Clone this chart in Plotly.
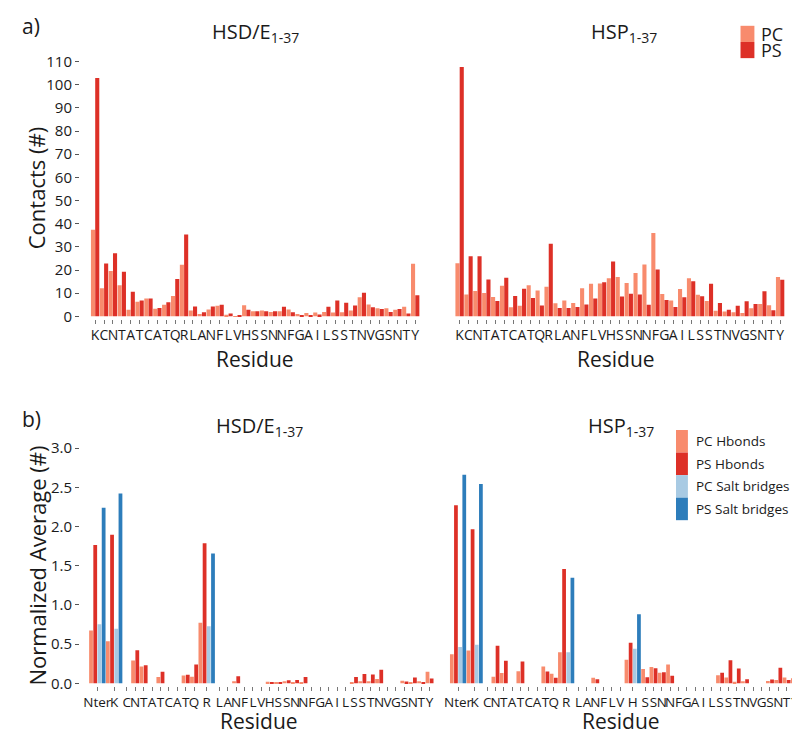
import plotly.graph_objects as go

# ---------------- data ----------------
residues = list("KCNTATCATQRLANFLVHSSNNFGAILSSTNVGSNTY")
categories_b = ["Nter"] + residues

# panel a) contacts
hsd_pc = [37.4, 12.1, 19.6, 13.4, 2.8, 6.3, 7.7, 3.3, 5.0, 8.8, 22.3, 2.5, 1.0, 3.0, 4.6, 0.7, 0.1, 4.8, 2.2,
          2.5, 1.9, 2.2, 3.0, 1.0, 1.5, 1.7, 1.9, 1.7, 1.8, 2.5, 8.2, 5.1, 3.5, 3.5, 2.8, 4.1, 22.7]
hsd_ps = [102.9, 22.8, 27.3, 19.3, 10.6, 6.9, 7.7, 3.6, 6.1, 16.1, 35.3, 4.3, 1.8, 4.3, 5.0, 1.2, 0.2, 2.9, 2.2,
          2.2, 2.2, 4.1, 1.8, 0.6, 0.6, 0.8, 4.1, 6.8, 5.9, 4.7, 10.2, 3.9, 3.2, 1.9, 3.2, 1.2, 9.1]
hsp_pc = [22.9, 9.4, 10.9, 10.1, 8.4, 13.2, 3.9, 4.6, 13.4, 11.2, 12.8, 5.7, 6.8, 5.8, 12.1, 14.1, 14.2, 16.5, 17.0,
          14.4, 18.7, 22.4, 36.0, 9.7, 6.8, 11.8, 16.5, 9.3, 6.6, 2.4, 2.1, 1.8, 1.5, 3.5, 5.3, 4.8, 17.0]
hsp_ps = [107.7, 25.9, 25.9, 15.9, 6.6, 16.7, 8.8, 11.9, 7.9, 4.7, 31.4, 3.6, 3.6, 4.0, 5.1, 7.7, 14.7, 23.7, 8.6,
          9.8, 9.4, 5.0, 20.2, 7.1, 4.0, 8.2, 15.2, 8.7, 14.1, 5.8, 2.8, 4.6, 6.5, 5.3, 10.8, 2.6, 15.8]

# panel b) normalized averages, order: Nter + 37 residues (None = no bar)
N = None
hsd_pc_hb = [0.674, 0.538, N, 0.291, 0.214, N, 0.081, N, N, 0.099, 0.085, 0.773, N, N, 0.026, N, N, N, 0.02,
             0.015, 0.026, 0.018, 0.018, N, N, N, N, N, 0.007, 0.026, 0.026, 0.055, N, N, 0.033, 0.018, 0.026, 0.147]
hsd_ps_hb = [1.764, 1.896, N, 0.423, 0.232, N, 0.147, N, N, 0.11, 0.24, 1.786, N, N, 0.092, N, N, N, 0.015,
             0.018, 0.04, 0.044, 0.081, N, N, N, N, N, 0.081, 0.12, 0.114, 0.173, N, N, 0.022, 0.074, 0.007, 0.063]
hsd_pc_sb = [0.755, 0.696, N, N, N, N, N, N, N, N, N, 0.729, N, N, N, N, N, N, N,
             N, N, N, N, N, N, N, N, N, N, N, N, N, N, N, N, N, N, N]
hsd_ps_sb = [2.239, 2.423, N, N, N, N, N, N, N, N, N, 1.657, N, N, N, N, N, N, N,
             N, N, N, N, N, N, N, N, N, N, N, N, N, N, N, N, N, N, N]

hsp_pc_hb = [0.372, 0.42, N, 0.085, 0.133, N, 0.155, N, N, 0.214, 0.121, 0.398, N, N, 0.07, N, N, N, 0.30,
             0.184, 0.21, 0.136, 0.239, N, N, N, N, N, 0.103, 0.074, 0.02, 0.026, N, N, 0.03, 0.044, 0.074, 0.066]
hsp_ps_hb = [2.272, 1.966, N, 0.479, 0.287, N, 0.28, N, N, 0.151, 0.07, 1.458, N, N, 0.052, N, N, N, 0.519,
             0.077, 0.191, 0.14, 0.096, N, N, N, N, N, 0.136, 0.295, 0.188, 0.052, N, N, 0.048, 0.2, 0.044, 0.129]
hsp_pc_sb = [0.464, 0.493, N, N, N, N, N, N, N, N, N, 0.398, N, N, N, N, N, N, 0.44,
             N, N, N, N, N, N, N, N, N, N, N, N, N, N, N, N, N, N, N]
hsp_ps_sb = [2.662, 2.544, N, N, N, N, N, N, N, N, N, 1.348, N, N, N, N, N, N, 0.88,
             N, N, N, N, N, N, N, N, N, N, N, N, N, N, N, N, N, N, N]

ticks_a = list(range(0, 111, 10))
ticks_b = [0.0, 0.5, 1.0, 1.5, 2.0, 2.5, 3.0]

# ---------------- style ----------------
C_PC = "#F88B6D"
C_PS = "#DD3027"
C_PCSB = "#A8CAE3"
C_PSSB = "#2D7DBB"
FONT = "Open Sans, Lato, sans-serif"
TXT = "#1a1a1a"
W, H = 800, 748


def px(x):
    return x / W


def py(y):
    return 1 - y / H


fig = go.Figure()

# ---------- panel a ----------
idx = list(range(len(residues)))
for xa, ya, pc, ps in [("x", "y", hsd_pc, hsd_ps), ("x2", "y2", hsp_pc, hsp_ps)]:
    fig.add_trace(go.Bar(x=[i - 0.24 for i in idx], y=pc, width=0.46, marker=dict(color=C_PC, line=dict(width=0)),
                         xaxis=xa, yaxis=ya, showlegend=False, name="PC"))
    fig.add_trace(go.Bar(x=[i + 0.24 for i in idx], y=ps, width=0.46, marker=dict(color=C_PS, line=dict(width=0)),
                         xaxis=xa, yaxis=ya, showlegend=False, name="PS"))


# ---------- panel b ----------
def slot_centers(pc_sb, ps_sb):
    widths = [4 if (a is not None or b is not None) else 2 for a, b in zip(pc_sb, ps_sb)]
    centers, pos = [], 0.0
    for wdt in widths:
        centers.append(pos + wdt / 2)
        pos += wdt
    return widths, centers, pos


b_specs = [("x3", "y3", hsd_pc_hb, hsd_ps_hb, hsd_pc_sb, hsd_ps_sb),
           ("x4", "y4", hsp_pc_hb, hsp_ps_hb, hsp_pc_sb, hsp_ps_sb)]
b_centers = {}
b_totals = {}
for xa, ya, pchb, pshb, pcsb, pssb in b_specs:
    widths, centers, total = slot_centers(pcsb, pssb)
    b_centers[xa] = centers
    b_totals[xa] = total
    series = [(pchb, C_PC, (-1.5, -0.5)), (pshb, C_PS, (-0.5, 0.5)),
              (pcsb, C_PCSB, (0.5, None)), (pssb, C_PSSB, (1.5, None))]
    for vals, col, offs in series:
        xs, ys = [], []
        for i, v in enumerate(vals):
            if v is None:
                continue
            off = offs[0] if widths[i] == 4 else offs[1]
            xs.append(centers[i] + off)
            ys.append(v)
        fig.add_trace(go.Bar(x=xs, y=ys, width=0.9, marker=dict(color=col, line=dict(width=0)),
                             xaxis=xa, yaxis=ya, showlegend=False))

# ---------- axes ----------
A_Y0, A_TOP = 306.5, 46.5          # pixel of 0 and 110
A_PPU = (A_Y0 - A_TOP) / 110
a_dom = [py(A_Y0 + 1.0 * A_PPU), py(A_Y0 - 112 * A_PPU)]
B_Y0, B_TOP = 681.0, 441.0         # pixel of 0.0 and 3.0
B_PPU = (B_Y0 - B_TOP) / 3.0
b_dom = [py(B_Y0 + 0.03 * B_PPU), py(B_Y0 - 3.04 * B_PPU)]

common_x = dict(showgrid=False, zeroline=False, showline=False, ticks="outside", ticklen=4,
                tickcolor="#777", tickwidth=1, tickangle=0, fixedrange=True)
tf_a = dict(family=FONT, size=14, color=TXT)
tf_b = dict(family=FONT, size=13.5, color=TXT)

fig.update_layout(
    xaxis=dict(domain=[px(66.5), px(409.6)], range=[-1.7, 36.6], tickvals=idx, ticktext=residues,
               anchor="y", tickfont=tf_a, **common_x),
    xaxis2=dict(domain=[px(440), px(777.3)], range=[-1.0, 36.6], tickvals=idx, ticktext=residues,
                anchor="y2", tickfont=tf_a, **common_x),
    xaxis3=dict(domain=[px(66.5), px(423)], range=[-2.12, b_totals["x3"]], tickvals=b_centers["x3"],
                ticktext=categories_b, anchor="y3", tickfont=tf_b, **common_x),
    xaxis4=dict(domain=[px(439), px(791)], range=[0, b_totals["x4"]], tickvals=b_centers["x4"],
                ticktext=categories_b, anchor="y4", tickfont=tf_b, **common_x),
    yaxis=dict(domain=a_dom, range=[-1.0, 112], tickvals=ticks_a, anchor="x", showgrid=False, zeroline=False,
               showline=False, ticks="outside", ticklen=4, tickcolor="#555",
               tickfont=dict(family=FONT, size=15, color=TXT)),
    yaxis2=dict(domain=a_dom, range=[-1.0, 112], anchor="x2", visible=False),
    yaxis3=dict(domain=b_dom, range=[-0.03, 3.04], tickvals=ticks_b, tickformat=".1f", anchor="x3",
                showgrid=False, zeroline=False, showline=False, ticks="outside", ticklen=4, tickcolor="#555",
                tickfont=dict(family=FONT, size=15, color=TXT)),
    yaxis4=dict(domain=b_dom, range=[-0.03, 3.04], anchor="x4", visible=False),
    barmode="overlay",
    width=W, height=H, autosize=False,
    margin=dict(l=0, r=0, t=0, b=0),
    paper_bgcolor="white", plot_bgcolor="white",
    font=dict(family=FONT, color=TXT),
    showlegend=False,
)

# ---------- text ----------
ann = []


def text(x, y, s, size, **kw):
    d = dict(x=px(x), y=py(y), xref="paper", yref="paper", text=s, showarrow=False,
             font=dict(family=FONT, size=size, color=TXT), xanchor=kw.pop("xanchor", "center"),
             yanchor=kw.pop("yanchor", "middle"))
    d.update(kw)
    ann.append(d)


text(6, 10, "a)", 21, xanchor="left")
text(6, 411, "b)", 21, xanchor="left")
text(243, 17, "HSD/E<sub>1-37</sub>", 20)
text(615, 17, "HSP<sub>1-37</sub>", 20)
text(247, 419, "HSD/E<sub>1-37</sub>", 20)
text(612, 419, "HSP<sub>1-37</sub>", 20)
text(23, 176, "Contacts (#)", 22, textangle=-90)
text(23, 561, "Normalized Average (#)", 22, textangle=-90)
text(243, 350, "Residue", 21)
text(607, 350, "Residue", 21)
text(247, 719, "Residue", 21)
text(612, 719, "Residue", 21)

# legends
shapes = []
leg_a = [("PC", C_PC), ("PS", C_PS)]
for k, (lab, col) in enumerate(leg_a):
    y0 = 10 + k * 16.5
    shapes.append(dict(type="rect", xref="paper", yref="paper", x0=px(732), x1=px(746), y0=py(y0 + 16.5), y1=py(y0),
                       fillcolor=col, line=dict(width=0)))
    text(751, y0 + 8.25, lab, 18, xanchor="left")

leg_b = [("PC Hbonds", C_PC), ("PS Hbonds", C_PS), ("PC Salt bridges", C_PCSB), ("PS Salt bridges", C_PSSB)]
for k, (lab, col) in enumerate(leg_b):
    y0 = 422.5 + k * 23
    shapes.append(dict(type="rect", xref="paper", yref="paper", x0=px(667), x1=px(679), y0=py(y0 + 23), y1=py(y0),
                       fillcolor=col, line=dict(width=0)))
    text(685, y0 + 11.5, lab, 13.5, xanchor="left")

fig.update_layout(annotations=ann, shapes=shapes)

fig.write_html("out.html")
